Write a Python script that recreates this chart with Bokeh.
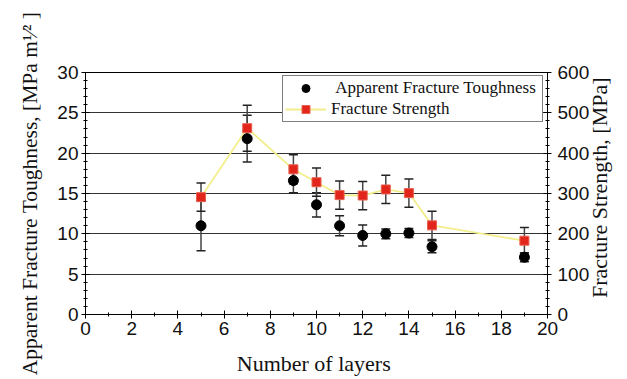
import math
from bokeh.plotting import figure
from bokeh.models import (Range1d, LinearAxis, SingleIntervalTicker, Whisker, TeeHead,
                          ColumnDataSource, Legend, LegendItem)
from bokeh.embed import file_html
from bokeh.resources import INLINE

# ---- data ----
layers = [5, 7, 9, 10, 11, 12, 13, 14, 15, 19]
toughness = [11.0, 21.8, 16.6, 13.6, 11.0, 9.8, 10.0, 10.1, 8.4, 7.1]
toughness_err = [3.1, 2.9, 1.5, 1.5, 1.25, 1.3, 0.6, 0.55, 0.75, 0.55]
strength = [291, 462, 360, 328, 296, 295, 310, 301, 221, 183]
strength_err = [35, 57, 36, 35, 35, 35, 35, 35, 35, 33]

x_label = "Number of  layers"
left_label = "Apparent Fracture Toughness, [MPa m\u00b9\u2044\u00b2 ]"
right_label = "\u00a0\u00a0\u00a0Fracture Strength, [MPa]"
legend_labels = ["\u00a0Apparent Fracture Toughness\u00a0", "Fracture Strength"]

SERIF = "Liberation Serif"
SANS = "Liberation Sans"

src_t = ColumnDataSource(dict(
    x=layers, y=toughness,
    lo=[v - e for v, e in zip(toughness, toughness_err)],
    hi=[v + e for v, e in zip(toughness, toughness_err)]))
src_s = ColumnDataSource(dict(
    x=layers, y=strength,
    lo=[v - e for v, e in zip(strength, strength_err)],
    hi=[v + e for v, e in zip(strength, strength_err)]))

p = figure(width=627, height=379, output_backend="svg", toolbar_location=None,
           x_range=Range1d(0, 20), y_range=Range1d(0, 30),
           min_border_left=85, min_border_right=74, min_border_top=72, min_border_bottom=65)
p.extra_y_ranges = {"right": Range1d(0, 600)}
p.outline_line_color = "black"
p.outline_line_width = 1
p.background_fill_color = "white"
p.border_fill_color = "white"

xt = SingleIntervalTicker(interval=2, num_minor_ticks=2)
yt = SingleIntervalTicker(interval=5, num_minor_ticks=5)
rt = SingleIntervalTicker(interval=100, num_minor_ticks=5)

p.xaxis.ticker = xt
p.yaxis.ticker = yt
p.xgrid.visible = False
p.ygrid.ticker = yt
p.ygrid.grid_line_color = "#333333"
p.ygrid.grid_line_width = 1

raxis = LinearAxis(y_range_name="right", ticker=rt)
p.add_layout(raxis, "right")

for ax in [p.xaxis[0], p.yaxis[0], raxis]:
    ax.axis_line_color = "black"
    ax.major_tick_line_color = "black"
    ax.minor_tick_line_color = "black"
    ax.major_tick_in = 4
    ax.major_tick_out = 4
    ax.minor_tick_in = 2
    ax.minor_tick_out = 2
    ax.major_label_text_font = SANS
    ax.major_label_text_font_size = "19px"
    ax.major_label_text_color = "#111111"
    ax.axis_label_text_font = SERIF
    ax.axis_label_text_font_style = "normal"
    ax.axis_label_text_color = "#111111"
p.yaxis[0].major_label_standoff = 3
raxis.major_label_standoff = 6
p.xaxis[0].major_label_standoff = 3

p.xaxis[0].axis_label = x_label
p.xaxis[0].axis_label_text_font_size = "22px"
p.xaxis[0].axis_label_standoff = 13

p.yaxis[0].axis_label = left_label
p.yaxis[0].axis_label_text_font_size = "21.5px"
p.yaxis[0].axis_label_standoff = 12

raxis.axis_label = right_label
raxis.axis_label_text_font_size = "22px"
raxis.axis_label_text_line_height = 0.8
raxis.axis_label_standoff = 7
raxis.axis_label_orientation = math.pi / 2
raxis.axis_label_align = "start"

# error bars
wt = Whisker(source=src_t, base="x", lower="lo", upper="hi", dimension="height",
             line_color="#444444", line_width=1.5,
             lower_head=TeeHead(size=9, line_color="#222222", line_width=1.5),
             upper_head=TeeHead(size=9, line_color="#222222", line_width=1.5))
ws = Whisker(source=src_s, base="x", lower="lo", upper="hi", dimension="height",
             y_range_name="right",
             line_color="#444444", line_width=1.5,
             lower_head=TeeHead(size=9, line_color="#222222", line_width=1.5),
             upper_head=TeeHead(size=9, line_color="#222222", line_width=1.5))
p.add_layout(wt)
p.add_layout(ws)

line_s = p.line("x", "y", source=src_s, y_range_name="right",
                line_color="#f3ee8c", line_width=1.8)
circ = p.scatter("x", "y", source=src_t, marker="circle", size=10,
                 fill_color="black", line_color="black")
sq = p.scatter("x", "y", source=src_s, y_range_name="right", marker="square", size=9,
               fill_color="#e3261b", line_color="#e8604f", line_width=1)

legend = Legend(items=[LegendItem(label=legend_labels[0], renderers=[circ]),
                       LegendItem(label=legend_labels[1], renderers=[line_s, sq])],
                location=(197, 192), orientation="vertical",
                label_text_font=SERIF, label_text_font_size="17px",
                label_text_color="#111111",
                glyph_width=41, glyph_height=20, label_height=20,
                label_standoff=5, spacing=1, padding=2, margin=0,
                border_line_color="black", border_line_width=1,
                background_fill_color="white", background_fill_alpha=1.0)
p.add_layout(legend, "center")

open("out.html", "w").write(file_html(p, INLINE))
